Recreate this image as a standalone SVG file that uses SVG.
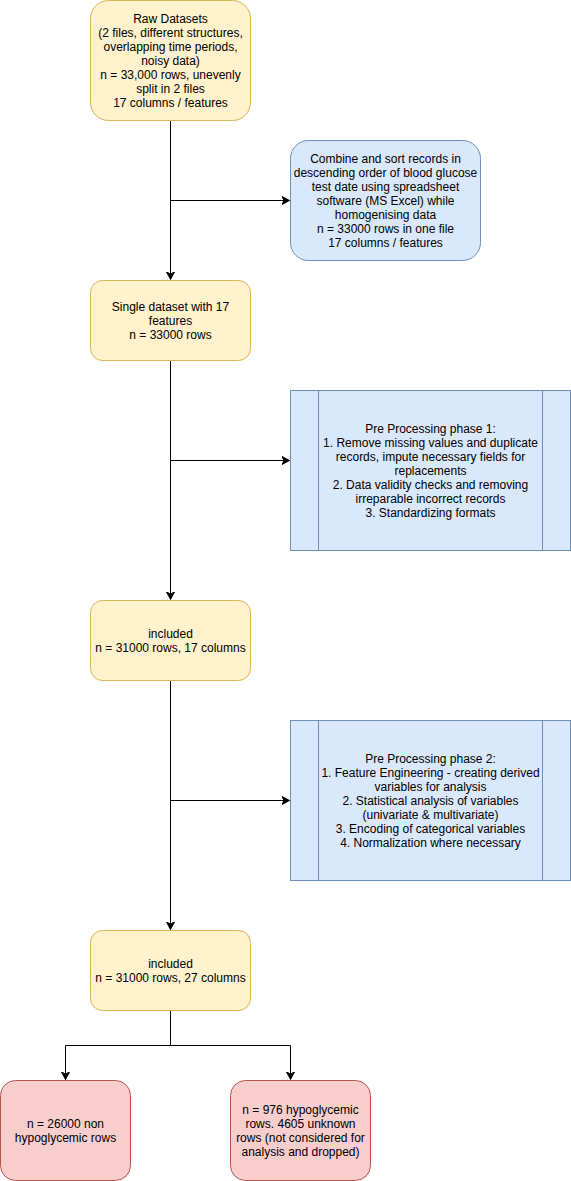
<svg xmlns="http://www.w3.org/2000/svg" width="571" height="1181" viewBox="0 0 571 1181">
<defs>
<style>
.t{font-family:"Liberation Sans",Arial,Helvetica,sans-serif;font-size:12px;fill:#000;text-anchor:middle}
.y{fill:#fff2cc;stroke:#d6b656;stroke-width:1}
.b{fill:#dae8fc;stroke:#6c8ebf;stroke-width:1}
.r{fill:#f8cecc;stroke:#b85450;stroke-width:1}
.e{fill:none;stroke:#000;stroke-width:1}
</style>
<marker id="arr" markerUnits="userSpaceOnUse" markerWidth="10" markerHeight="10" viewBox="-8 -5 10 10" refX="0" refY="0" orient="auto">
<path d="M0,0 L-7.5,-4 L-5.5,0 L-7.5,4 Z" fill="#000" stroke="#000" stroke-width="1"/>
</marker>
</defs>
<g transform="translate(0.5,0.5)">
<g id="connectors">
<path class="e" d="M170,120 V279" marker-end="url(#arr)"/>
<path class="e" d="M170,200 H289" marker-end="url(#arr)"/>
<path class="e" d="M170,360 V599" marker-end="url(#arr)"/>
<path class="e" d="M170,460 H289" marker-end="url(#arr)"/>
<path class="e" d="M170,680 V929" marker-end="url(#arr)"/>
<path class="e" d="M170,800 H289" marker-end="url(#arr)"/>
<path class="e" d="M170,1010 V1045 H65 V1079" marker-end="url(#arr)"/>
<path class="e" d="M170,1045 H290 V1079" marker-end="url(#arr)"/>
</g>
<g id="raw">
<rect class="y" x="90" y="0" width="160" height="120" rx="18" ry="18"/>
<text class="t" x="170" y="22">Raw Datasets</text>
<text class="t" x="170" y="36">(2 files, different structures,</text>
<text class="t" x="170" y="50">overlapping time periods,</text>
<text class="t" x="170" y="64">noisy data)</text>
<text class="t" x="170" y="78">n = 33,000 rows, unevenly</text>
<text class="t" x="170" y="92">split in 2 files</text>
<text class="t" x="170" y="106">17 columns / features</text>
</g>
<g id="combine">
<rect class="b" x="290" y="140" width="190" height="120" rx="18" ry="18"/>
<text class="t" x="385" y="162">Combine and sort records in</text>
<text class="t" x="385" y="176">descending order of blood glucose</text>
<text class="t" x="385" y="190">test date using spreadsheet</text>
<text class="t" x="385" y="204">software (MS Excel) while</text>
<text class="t" x="385" y="218">homogenising data</text>
<text class="t" x="385" y="232">n = 33000 rows in one file</text>
<text class="t" x="385" y="246">17 columns / features</text>
</g>
<g id="single">
<rect class="y" x="90" y="280" width="160" height="80" rx="12" ry="12"/>
<text class="t" x="170" y="310">Single dataset with 17</text>
<text class="t" x="170" y="324">features</text>
<text class="t" x="170" y="338">n = 33000 rows</text>
</g>
<g id="pre1">
<rect class="b" x="290" y="390" width="280" height="160"/>
<path class="b" d="M318,390 V550 M542,390 V550"/>
<text class="t" x="430" y="432">Pre Processing phase 1:</text>
<text class="t" x="430" y="446">1. Remove missing values and duplicate</text>
<text class="t" x="430" y="460">records, impute necessary fields for</text>
<text class="t" x="430" y="474">replacements</text>
<text class="t" x="430" y="488">2. Data validity checks and removing</text>
<text class="t" x="430" y="502">irreparable incorrect records</text>
<text class="t" x="430" y="516">3. Standardizing formats</text>
</g>
<g id="included1">
<rect class="y" x="90" y="600" width="160" height="80" rx="12" ry="12"/>
<text class="t" x="170" y="637">included</text>
<text class="t" x="170" y="651">n = 31000 rows, 17 columns</text>
</g>
<g id="pre2">
<rect class="b" x="290" y="720" width="280" height="160"/>
<path class="b" d="M318,720 V880 M542,720 V880"/>
<text class="t" x="430" y="762">Pre Processing phase 2:</text>
<text class="t" x="430" y="776">1. Feature Engineering - creating derived</text>
<text class="t" x="430" y="790">variables for analysis</text>
<text class="t" x="430" y="804">2. Statistical analysis of variables</text>
<text class="t" x="430" y="818">(univariate &amp; multivariate)</text>
<text class="t" x="430" y="832">3. Encoding of categorical variables</text>
<text class="t" x="430" y="846">4. Normalization where necessary</text>
</g>
<g id="included2">
<rect class="y" x="90" y="930" width="160" height="80" rx="12" ry="12"/>
<text class="t" x="170" y="967">included</text>
<text class="t" x="170" y="981">n = 31000 rows, 27 columns</text>
</g>
<g id="nonhypo">
<rect class="r" x="0" y="1080" width="130" height="100" rx="15" ry="15"/>
<text class="t" x="65" y="1127">n = 26000 non</text>
<text class="t" x="65" y="1141">hypoglycemic rows</text>
</g>
<g id="hypo">
<rect class="r" x="230" y="1080" width="140" height="100" rx="15" ry="15"/>
<text class="t" x="300" y="1113">n = 976 hypoglycemic</text>
<text class="t" x="300" y="1127">rows. 4605 unknown</text>
<text class="t" x="300" y="1141">rows (not considered for</text>
<text class="t" x="300" y="1155">analysis and dropped)</text>
</g>
</g>
</svg>
